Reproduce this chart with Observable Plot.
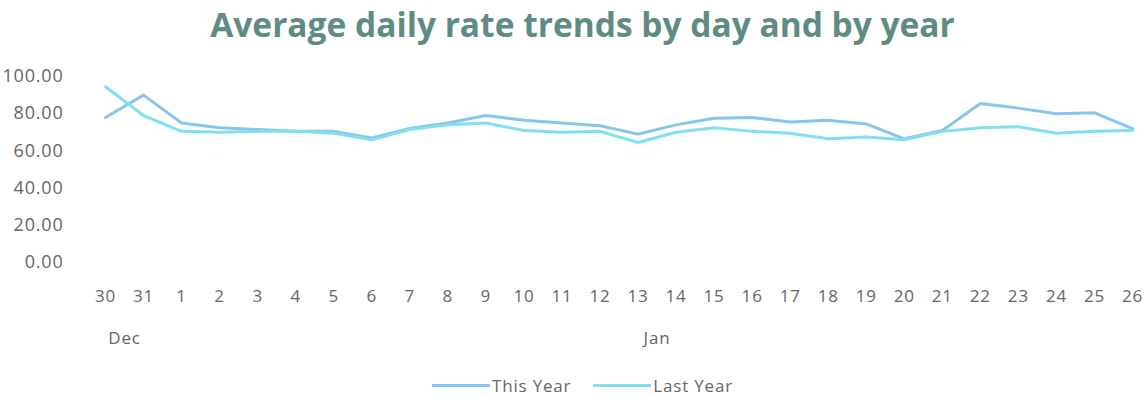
<!DOCTYPE html>
<html>
<head>
<meta charset="utf-8">
<script src="https://cdn.jsdelivr.net/npm/d3@7"></script>
<script src="https://cdn.jsdelivr.net/npm/@observablehq/plot@0.6"></script>
<style>
  html, body { margin: 0; padding: 0; background: #ffffff; }
  body { width: 1143px; height: 398px; overflow: hidden; font-family: "Open Sans", sans-serif; }
  #title { height: 56px; text-align: center; font-size: 33.5px; font-weight: 700; color: #5e8c84; line-height: 48px; padding-left: 22px; }
  #legend { display: flex; justify-content: center; align-items: center; gap: 22px; font-size: 17px; letter-spacing: 0.8px; color: #666666; margin-top: 14px; padding-left: 22px; }
  .item { display: flex; align-items: center; }
  .sw { width: 58px; height: 3px; margin-right: 2px; }
</style>
</head>
<body>
<div id="title">Average daily rate trends by day and by year</div>
<div id="chart"></div>
<div id="legend"></div>
<script>
const days = ["30","31","1","2","3","4","5","6","7","8","9","10","11","12","13","14","15","16","17","18","19","20","21","22","23","24","25","26"];
const months = ["Dec","Dec","Jan","Jan","Jan","Jan","Jan","Jan","Jan","Jan","Jan","Jan","Jan","Jan","Jan","Jan","Jan","Jan","Jan","Jan","Jan","Jan","Jan","Jan","Jan","Jan","Jan","Jan"];
const thisYear = [78, 90, 75, 72.5, 71.5, 70.5, 70.5, 67, 72, 75, 79, 76.5, 75, 73.5, 69, 74, 77.5, 78, 75.5, 76.5, 74.5, 66.5, 71, 85.5, 83, 80, 80.5, 72];
const lastYear = [94.5, 79, 70.5, 70, 70.5, 70.5, 69.5, 66, 71.5, 74, 75, 71, 70, 70.5, 64.5, 70, 72.5, 70.5, 69.5, 66.5, 67.5, 66, 70.5, 72.5, 73, 69.5, 70.5, 71];
const seriesNames = ["This Year", "Last Year"];
const seriesColors = ["#86c6ea", "#80e0f0"];
const yTicks = [0, 20, 40, 60, 80, 100];

const rows = [];
days.forEach((d, i) => {
  rows.push({i, series: seriesNames[0], value: thisYear[i]});
  rows.push({i, series: seriesNames[1], value: lastYear[i]});
});

// month group labels centered over their day groups
const monthGroups = [];
months.forEach((m, i) => {
  const g = monthGroups.find(g => g.label === m);
  if (g) g.end = i; else monthGroups.push({label: m, start: i, end: i});
});
monthGroups.forEach(g => g.x = (g.start + g.end) / 2);

const plot = Plot.plot({
  width: 1143,
  height: 304,
  marginLeft: 105,
  marginRight: 11,
  marginTop: 20,
  marginBottom: 98,
  style: {fontFamily: "Open Sans, sans-serif", fontSize: "17px", letterSpacing: "0.8px", color: "#666666", background: "transparent"},
  x: {type: "linear", domain: [0, days.length - 1]},
  y: {domain: [0, 100]},
  color: {domain: seriesNames, range: seriesColors},
  marks: [
    Plot.axisY({ticks: yTicks, tickFormat: d => d.toFixed(2), tickSize: 0, tickPadding: 42, label: null, fill: "#666666", fontSize: 18}),
    Plot.axisX({ticks: d3.range(days.length), tickFormat: i => days[i], tickSize: 0, tickPadding: 27, label: null, fill: "#666666", fontSize: 17}),
    Plot.text(monthGroups, {x: "x", text: "label", frameAnchor: "bottom", dy: 81, fill: "#666666", fontSize: 17}),
    Plot.line(rows, {x: "i", y: "value", z: "series", stroke: "series", strokeWidth: 3, strokeLinejoin: "round", strokeLinecap: "round", curve: "linear"})
  ]
});
document.getElementById("chart").appendChild(plot);

const legend = document.getElementById("legend");
seriesNames.forEach((name, k) => {
  const item = document.createElement("div");
  item.className = "item";
  const sw = document.createElement("div");
  sw.className = "sw";
  sw.style.background = seriesColors[k];
  const t = document.createElement("span");
  t.textContent = name;
  item.appendChild(sw);
  item.appendChild(t);
  legend.appendChild(item);
});
</script>
</body>
</html>
